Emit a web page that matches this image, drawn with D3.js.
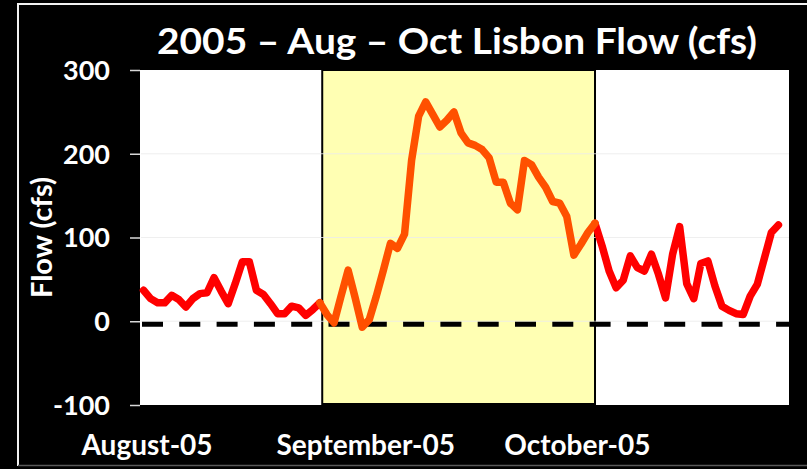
<!DOCTYPE html>
<html>
<head>
<meta charset="utf-8">
<script src="https://cdn.jsdelivr.net/npm/d3@7"></script>
<style>
  html, body { margin: 0; padding: 0; background: #000; }
  svg { display: block; }
</style>
</head>
<body>
<svg id="chart" width="807" height="469"></svg>
<script>
// ---- Data ----
const startDate = "2005-08-01";
// Daily flow at Lisbon (cfs), Aug 1 – Oct 30, 2005
const flow = [
  37, 27, 22, 22, 31, 26, 17, 27, 33, 34, 52, 36, 21, 45, 71, 71, 37, 32, 21, 9, 9, 18, 16, 7, 14, 22,
  8, -2, 30, 61, 28, -7, 2, 30, 61, 93, 87, 104, 192, 245, 262, 247, 232, 240, 250, 225, 213, 210, 205, 195,
  166, 166, 141, 133, 192, 187, 172, 160, 143, 141, 125, 79, 92, 106, 117,
  90, 60, 40, 49, 78, 64, 60, 80, 56, 28, 80, 113, 45, 27, 69, 72, 42, 18, 13, 9, 8, 30, 44, 75, 106, 115
];
const highlightFromIndex = 25;   // first day of the highlighted (orange) stretch
const highlightToIndex = 64;     // last day of the highlighted stretch
const highlightRange = ["2005-08-26T08:00", "2005-10-04T00:00"];
const referenceLevel = -3.5;     // dashed zero-flow line
const monthTicks = ["2005-08-01", "2005-09-01", "2005-10-01"];
const monthLabels = ["August-05", "September-05", "October-05"];
const yTicks = [-100, 0, 100, 200, 300];
const xDomain = ["2005-07-31T12:00", "2005-10-31T12:00"];
const yDomain = [-100, 300];
const titleText = "2005 \u2013 Aug \u2013 Oct Lisbon Flow (cfs)";
const yTitle = "Flow (cfs)";

// ---- Layout ----
const W = 807, H = 469;
const plot = { left: 140, right: 789, top: 70, bottom: 405 };
const svg = d3.select("#chart");
const parse = s => new Date(s + (s.length === 10 ? "T00:00Z" : "Z"));

const x = d3.scaleUtc().domain(xDomain.map(parse)).range([plot.left, plot.right]);
const y = d3.scaleLinear().domain(yDomain).range([plot.bottom, plot.top]);

const t0 = parse(startDate);
const points = flow.map((v, i) => ({ date: d3.utcDay.offset(t0, i), value: v, i }));

// Background & frame
svg.append("rect").attr("width", W).attr("height", H).attr("fill", "#000");
svg.append("line").attr("x1", 18).attr("x2", W).attr("y1", 4).attr("y2", 4)
  .attr("stroke", "#f2f2f2").attr("stroke-width", 2);
svg.append("line").attr("x1", 18).attr("x2", 18).attr("y1", 3).attr("y2", 466)
  .attr("stroke", "#f2f2f2").attr("stroke-width", 2);
svg.append("line").attr("x1", 18).attr("x2", W).attr("y1", 465.5).attr("y2", 465.5)
  .attr("stroke", "#595959").attr("stroke-width", 1.5);

// Plot area
svg.append("rect").attr("x", plot.left).attr("y", plot.top)
  .attr("width", plot.right - plot.left).attr("height", plot.bottom - plot.top)
  .attr("fill", "#fff");

// Highlight rectangle
const hx0 = x(parse(highlightRange[0])), hx1 = x(parse(highlightRange[1]));
svg.append("rect").attr("x", hx0).attr("y", plot.top)
  .attr("width", hx1 - hx0).attr("height", plot.bottom - plot.top - 1)
  .attr("fill", "#ffffb3").attr("stroke", "#000").attr("stroke-width", 2);

// Gridlines
svg.append("g").selectAll("line").data(yTicks.filter(d => d > yDomain[0] && d < yDomain[1]))
  .join("line")
  .attr("x1", plot.left + 1).attr("x2", plot.right)
  .attr("y1", d => y(d)).attr("y2", d => y(d))
  .attr("stroke", "#ececec").attr("stroke-width", 1.2).attr("opacity", 0.8);

// Y axis
const yAxis = d3.axisLeft(y).tickValues(yTicks).tickFormat(d => String(d)).tickSize(10).tickPadding(20);
const gy = svg.append("g").attr("transform", `translate(${plot.left},0)`).call(yAxis);
gy.select(".domain").remove();
gy.selectAll(".tick line").attr("stroke", "#d9d9d9").attr("stroke-width", 1.5);
gy.selectAll(".tick text")
  .attr("fill", "#fff")
  .style("font-family", "Lato, 'Open Sans', sans-serif")
  .style("font-weight", "700")
  .style("font-size", "27px")
  .attr("dy", "0.35em");

// X axis labels
const xAxis = d3.axisBottom(x)
  .tickValues(monthTicks.map(parse))
  .tickFormat((d, i) => monthLabels[i])
  .tickSize(0).tickPadding(0);
const gx = svg.append("g").attr("transform", `translate(0,${plot.bottom})`).call(xAxis);
gx.select(".domain").remove();
gx.selectAll(".tick text")
  .attr("fill", "#fff")
  .attr("y", 50).attr("dy", 0)
  .attr("dx", 3)
  .style("font-family", "Lato, 'Open Sans', sans-serif")
  .style("font-weight", "700")
  .style("font-size", "28px");

// Dashed reference line
svg.append("line")
  .attr("x1", plot.left + 2).attr("x2", plot.right)
  .attr("y1", y(referenceLevel)).attr("y2", y(referenceLevel))
  .attr("stroke", "#000").attr("stroke-width", 5)
  .attr("stroke-dasharray", "21,16.3");

// Flow lines
const line = d3.line().x(d => x(d.date)).y(d => y(d.value));
const before = points.filter(d => d.i <= highlightFromIndex);
const during = points.filter(d => d.i >= highlightFromIndex && d.i <= highlightToIndex);
const after = points.filter(d => d.i >= highlightToIndex);
[[before, "#ff0000"], [after, "#ff0000"], [during, "#ff5000"]].forEach(([data, color]) => {
  svg.append("path").datum(data).attr("d", line)
    .attr("fill", "none").attr("stroke", color).attr("stroke-width", 7.5)
    .attr("stroke-linejoin", "round").attr("stroke-linecap", "round");
});

// Title
svg.append("text")
  .attr("x", 457).attr("y", 54)
  .attr("text-anchor", "middle")
  .attr("fill", "#fff")
  .attr("textLength", 600)
  .attr("lengthAdjust", "spacingAndGlyphs")
  .style("font-family", "Lato, 'Open Sans', sans-serif")
  .style("font-weight", "700")
  .style("font-size", "37px")
  .text(titleText);

// Y axis title
svg.append("text")
  .attr("transform", "translate(52,237.5) rotate(-90)")
  .attr("text-anchor", "middle")
  .attr("fill", "#fff")
  .attr("textLength", 121)
  .attr("lengthAdjust", "spacingAndGlyphs")
  .style("font-family", "Lato, 'Open Sans', sans-serif")
  .style("font-weight", "700")
  .style("font-size", "28px")
  .text(yTitle);
</script>
</body>
</html>
